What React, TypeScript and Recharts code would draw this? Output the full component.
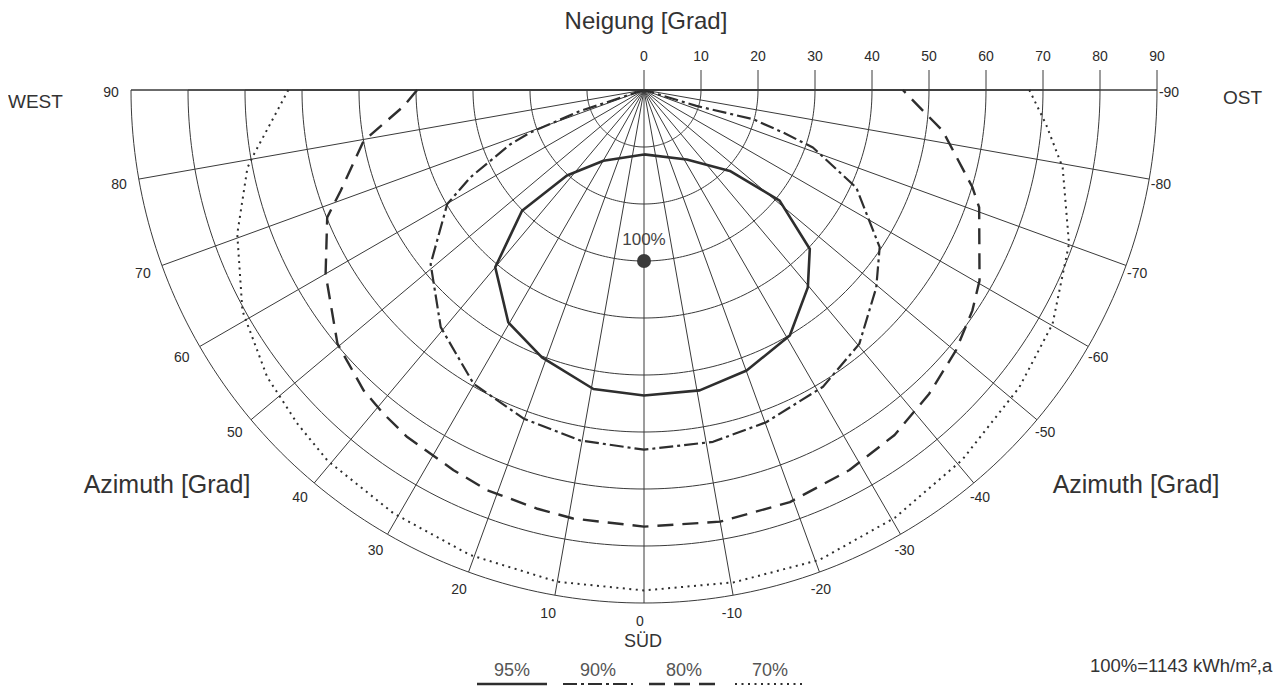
import React from 'react';
import { RadarChart, Radar, PolarGrid, PolarAngleAxis, PolarRadiusAxis, Legend } from 'recharts';

// ---------- axis ticks ----------
const azimuthTicks = [-90, -80, -70, -60, -50, -40, -30, -20, -10, 0, 10, 20, 30, 40, 50, 60, 70, 80, 90];
const tiltTicksRight = [0, 10, 20, 30, 40, 50, 60, 70, 80, 90];
const tiltTicksLeft = [10, 20, 30, 40, 50, 60, 70, 80, 90];

// ---------- contour lines (azimuth [deg], tilt [deg]) ----------
const curve95Azimuth = [0, 29.8, 42, 45.3, 40, 30.3, 20.9, 9.6, 0, -10.5, -20.1, -30.7, -39.7, -46.2, -50.8, -46.7, -31.6, 0];
const curve95Tilt = [11.3, 14.3, 20.2, 30.1, 40.6, 47.2, 50.2, 53.2, 53.6, 53.6, 52.4, 50.1, 45.0, 40.3, 30.7, 20.7, 14.3, 11.3];

const curve90Azimuth = [72, 71.8, 69.5, 67.9, 63.3, 59.9, 50.8, 40.6, 30.1, 20.1, 10.3, 0, -11.1, -20.2, -31.1, -40.3, -49.6, -56.3, -65.3, -71.2, -73, -75, -73.1, -73];
const curve90Tilt = [0, 11.8, 21.3, 25.3, 34.1, 39.9, 48.3, 54.8, 59.6, 61.4, 62.5, 63.1, 62.9, 62.1, 60.8, 58.4, 53.5, 49.7, 41.0, 31.3, 25.5, 19.8, 9.6, 0];

const curve80Azimuth = [90, 86.2, 79.7, 71.6, 68.1, 60, 50.4, 43, 38.8, 34.3, 26.6, 21.4, 14.4, 9.4, 0, -10, -19.5, -28.4, -36, -43.2, -50.1, -56.1, -60.4, -70.7, -73.5, -82.2, -90];
const curve80Tilt = [39.8, 42.2, 50.0, 56.1, 59.9, 64.5, 69.8, 72.1, 72.9, 73.7, 74.6, 75.4, 75.8, 76.2, 76.6, 76.9, 76.7, 75.8, 74.8, 73.1, 71.3, 69.4, 67.7, 62.3, 60.1, 52.9, 45.4];

const curve70Azimuth = [90, 80.7, 78.9, 70.5, 61.2, 52.7, 46.1, 40.5, 30.6, 20.5, 10, 0, -10.3, -20.5, -30.4, -40.7, -51.6, -60.2, -70.1, -79.5, -85.1, -90];
const curve70Tilt = [62.4, 69.3, 70.9, 75.7, 80.4, 83.1, 84.4, 85.5, 86.3, 87.1, 87.6, 87.8, 87.8, 88.0, 87.0, 85.6, 84.0, 82.6, 79.3, 74.7, 70.8, 67.6];

const peakAzimuth = [0];
const peakTilt = [30];

const seriesNames = { s95: '95%', s90: '90%', s80: '80%', s70: '70%' };
const legendOrder = ['s95', 's90', 's80', 's70'];

// table for the library
type Row = { az: number; s95?: number; s90?: number; s80?: number; s70?: number; peak?: number };
const rows: Row[] = [
  ...curve95Azimuth.map((az, i) => ({ az, s95: curve95Tilt[i] })),
  ...curve90Azimuth.map((az, i) => ({ az, s90: curve90Tilt[i] })),
  ...curve80Azimuth.map((az, i) => ({ az, s80: curve80Tilt[i] })),
  ...curve70Azimuth.map((az, i) => ({ az, s70: curve70Tilt[i] })),
  ...peakAzimuth.map((az, i) => ({ az, peak: peakTilt[i] })),
];

// ---------- styles ----------
const INK = '#2e2e2e';
const lineStyles: Record<string, { width: number; dash?: string }> = {
  s95: { width: 2.6 },
  s90: { width: 2.2, dash: '14 4 3 4' },
  s80: { width: 2.4, dash: '16 9' },
  s70: { width: 2, dash: '2 4.5' },
};

const arcAngles = Array.from({ length: 181 }, (_, i) => 180 + i);

const validPoints = (points: any[], key: string) =>
  (points || []).filter(
    (p: any) => p && p.payload && p.payload[key] != null && Number.isFinite(p.x) && Number.isFinite(p.y)
  );

const makeCurveShape = (key: string) => (props: any) => {
  const pts = validPoints(props.points, key);
  if (!pts.length) return <g />;
  const d = pts.map((p: any, i: number) => `${i ? 'L' : 'M'}${p.x},${p.y}`).join('');
  const st = lineStyles[key];
  return (
    <path
      d={d}
      fill="none"
      stroke={INK}
      strokeWidth={st.width}
      strokeDasharray={st.dash}
      strokeLinejoin="round"
    />
  );
};

const peakShape = (props: any) => {
  const pts = validPoints(props.points, 'peak');
  return (
    <g>
      {pts.map((p: any, i: number) => (
        <g key={i}>
          <circle cx={p.x} cy={p.y} r={7} fill="#3a3a3a" />
          <text x={p.x} y={p.y - 22} textAnchor="middle" dominantBaseline="central" fontSize={17} fill="#444">
            100%
          </text>
        </g>
      ))}
    </g>
  );
};

const AzTick = (props: any) => {
  const { x, y, payload } = props;
  return (
    <text x={x - 4} y={y + 2} textAnchor="middle" dominantBaseline="central" fontSize={14} fill="#2b2b2b">
      {payload.value}
    </text>
  );
};

const TiltTick = (props: any) => {
  const { x, y, payload } = props;
  return (
    <g>
      <line x1={x} y1={y} x2={x} y2={y - 20} stroke="#3a3a3a" strokeWidth={1} />
      <text x={x} y={y - 34} textAnchor="middle" dominantBaseline="central" fontSize={14} fill="#2b2b2b">
        {payload.value}
      </text>
    </g>
  );
};

const renderLegend = (props: any) => {
  const items = (props.payload || [])
    .filter((it: any) => lineStyles[it.dataKey as string])
    .sort((a: any, b: any) => legendOrder.indexOf(a.dataKey) - legendOrder.indexOf(b.dataKey));
  return (
    <div style={{ display: 'flex', gap: 16 }}>
      {items.map((it: any) => {
        const st = lineStyles[it.dataKey as string];
        return (
          <div key={it.dataKey} style={{ width: 70, textAlign: 'center' }}>
            <div style={{ fontSize: 18, lineHeight: '20px', color: '#555' }}>{it.value}</div>
            <svg width={70} height={8} style={{ display: 'block' }}>
              <line x1={0} y1={4} x2={70} y2={4} stroke={INK} strokeWidth={st.width} strokeDasharray={st.dash} />
            </svg>
          </div>
        );
      })}
    </div>
  );
};

const abs = (left: number, top: number, size: number, align: 'center' | 'left' = 'center'): React.CSSProperties => ({
  position: 'absolute',
  left,
  top,
  fontSize: size,
  lineHeight: 1,
  whiteSpace: 'nowrap',
  transform: align === 'center' ? 'translate(-50%, -50%)' : 'translate(0, -50%)',
  color: '#333',
});

export default function App() {
  return (
    <div
      style={{
        position: 'relative',
        width: 1266,
        height: 681,
        fontFamily: '"Liberation Sans", Arial, sans-serif',
        background: '#fff',
      }}
    >
      <RadarChart
        width={1266}
        height={681}
        data={rows}
        cx={636}
        cy={82}
        innerRadius={0}
        outerRadius={513}
        startAngle={360}
        endAngle={180}
        margin={{ top: 0, right: 0, bottom: 0, left: 0 }}
      >
        <PolarGrid gridType="polygon" polarAngles={arcAngles} radialLines={false} stroke="#3a3a3a" strokeWidth={1} />
        <PolarGrid gridType="polygon" polarRadius={[]} stroke="#3a3a3a" strokeWidth={1} />
        <PolarAngleAxis
          dataKey="az"
          type="number"
          domain={[-90, 90]}
          ticks={azimuthTicks}
          tick={AzTick}
          tickLine={false}
          axisLine={false}
          tickSize={16}
        />
        <PolarRadiusAxis
          radiusAxisId={0}
          angle={0}
          type="number"
          domain={[0, 90]}
          ticks={tiltTicksRight}
          tick={TiltTick}
          axisLine={false}
        />
        <PolarRadiusAxis
          radiusAxisId="left"
          angle={180}
          type="number"
          domain={[0, 90]}
          ticks={tiltTicksLeft}
          tick={TiltTick}
          axisLine={false}
        />
        <Radar name={seriesNames.s95} dataKey="s95" stroke={INK} fill="none" shape={makeCurveShape('s95')} isAnimationActive={false} />
        <Radar name={seriesNames.s90} dataKey="s90" stroke={INK} fill="none" shape={makeCurveShape('s90')} isAnimationActive={false} />
        <Radar name={seriesNames.s80} dataKey="s80" stroke={INK} fill="none" shape={makeCurveShape('s80')} isAnimationActive={false} />
        <Radar name={seriesNames.s70} dataKey="s70" stroke={INK} fill="none" shape={makeCurveShape('s70')} isAnimationActive={false} />
        <Radar name="100%" dataKey="peak" legendType="none" stroke={INK} fill="none" shape={peakShape} isAnimationActive={false} />
        <Legend content={renderLegend} wrapperStyle={{ left: 469, top: 652, width: 340 }} />
      </RadarChart>

      <div style={abs(638, 13, 24)}>Neigung [Grad]</div>
      <div style={abs(0, 93, 19, 'left')}>WEST</div>
      <div style={abs(1215, 89, 19, 'left')}>OST</div>
      <div style={abs(635, 633, 18)}>SÜD</div>
      <div style={abs(159, 476, 25)}>Azimuth [Grad]</div>
      <div style={abs(1128, 476, 25)}>Azimuth [Grad]</div>
      <div style={abs(1082, 658, 18.5, 'left')}>100%=1143 kWh/m²,a</div>
    </div>
  );
}
